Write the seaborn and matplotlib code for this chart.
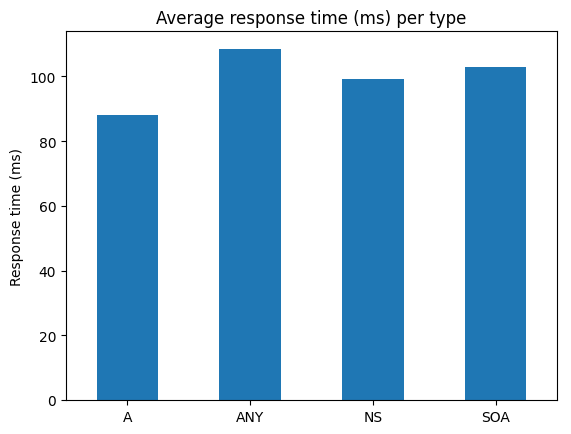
import matplotlib
matplotlib.use("Agg")
import matplotlib.pyplot as plt
import seaborn as sns

types = ["A", "ANY", "NS", "SOA"]
resp_ms = [88.0, 108.6, 99.1, 102.8]

fig = plt.figure(figsize=(5.71, 4.35), dpi=100)
ax = fig.add_axes([66/571, 1 - 401/435, (557-66)/571, (401-32)/435])
sns.barplot(x=types, y=resp_ms, color="#1f77b4", saturation=1, width=0.5, ax=ax)
ax.set_xlim(-0.5, 3.5)
ax.set_title("Average response time (ms) per type")
ax.set_ylabel("Response time (ms)")
ax.set_xlabel("")
fig.savefig("out.png", dpi=100)
